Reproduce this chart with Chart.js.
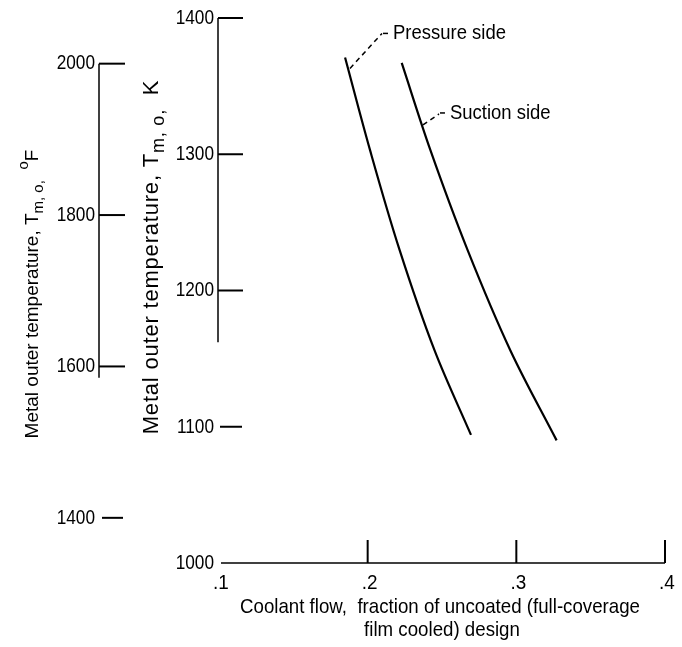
<!DOCTYPE html>
<html>
<head>
<meta charset="utf-8">
<script src="https://cdn.jsdelivr.net/npm/chart.js@4"></script>
<style>
  html, body { margin: 0; padding: 0; background: #fff; }
  #wrap { width: 682px; height: 647px; }
</style>
</head>
<body>
<div id="wrap"><canvas id="coolantChart" width="682" height="647"></canvas></div>
<script>
// curves: coolant flow vs metal outer temperature (K)
const pressureFlow = [0.1848, 0.2016, 0.2214, 0.2450, 0.2695];
const pressureTemp = [1371, 1303, 1230, 1156, 1094];
const suctionFlow = [0.2229, 0.2422, 0.2671, 0.2960, 0.3271];
const suctionTemp = [1367, 1303, 1230, 1156, 1090];

const flowTicks = [0.1, 0.2, 0.3, 0.4];
const flowLabels = [".1", ".2", ".3", ".4"];
const kelvinTicks = [1000, 1100, 1200, 1300, 1400];
const fahrenheitTicks = [1400, 1600, 1800, 2000];

const sans = '"Liberation Sans", Arial, sans-serif';

function toPoints(xs, ys) {
  return xs.map((x, i) => ({ x: x, y: ys[i] }));
}

function fToK(f) {
  return (f + 459.67) / 1.8;
}

function line(ctx, x1, y1, x2, y2) {
  ctx.beginPath();
  ctx.moveTo(x1, y1);
  ctx.lineTo(x2, y2);
  ctx.stroke();
}

// the original lettering is a condensed face, squeeze Liberation Sans sideways
function narrowText(ctx, text, x, y, align, size, squeeze) {
  ctx.save();
  ctx.translate(x, y);
  ctx.scale(squeeze, 1);
  ctx.font = size + "px " + sans;
  ctx.textAlign = align;
  ctx.textBaseline = "middle";
  ctx.fillText(text, 0, 0);
  ctx.restore();
}

// text pieces (normal / sub / sup) rotated -90deg, centred at cx, cy
function rotatedTitle(ctx, parts, cx, cy, size, spacing) {
  ctx.save();
  ctx.translate(cx, cy);
  ctx.rotate(-Math.PI / 2);
  ctx.textBaseline = "middle";
  ctx.textAlign = "left";
  ctx.letterSpacing = spacing + "px";
  let total = 0;
  parts.forEach(p => {
    ctx.font = (p.small ? Math.round(size * 0.8) : size) + "px " + sans;
    p.w = ctx.measureText(p.t).width;
    total += p.w;
  });
  let x = -total / 2;
  parts.forEach(p => {
    ctx.font = (p.small ? Math.round(size * 0.8) : size) + "px " + sans;
    ctx.fillText(p.t, x, p.shift || 0);
    x += p.w;
  });
  ctx.restore();
}

const axesPlugin = {
  id: "paperAxes",
  afterDraw(chart) {
    const ctx = chart.ctx;
    const xs = chart.scales.x;
    const ys = chart.scales.y;
    ctx.save();
    ctx.strokeStyle = "#000";
    ctx.fillStyle = "#000";

    // abscissa
    const yBase = ys.getPixelForValue(1000);
    ctx.lineWidth = 1.5;
    line(ctx, xs.getPixelForValue(0.1) + 2, yBase, xs.getPixelForValue(0.4), yBase);
    ctx.lineWidth = 2;
    flowTicks.forEach((v, i) => {
      const px = xs.getPixelForValue(v);
      if (i > 0) line(ctx, px, yBase, px, yBase - 23);
      narrowText(ctx, flowLabels[i], px + 2, yBase + 20, "center", 21, 0.9);
    });
    narrowText(ctx, "Coolant flow,  fraction of uncoated (full-coverage", 440, 607, "center", 21, 0.89);
    narrowText(ctx, "film cooled) design", 442, 630, "center", 21, 0.89);

    // kelvin scale
    const kx = 218;
    ctx.lineWidth = 1.5;
    line(ctx, kx, ys.getPixelForValue(1400), kx, ys.getPixelForValue(1162));
    kelvinTicks.forEach(v => {
      const py = ys.getPixelForValue(v);
      ctx.lineWidth = 2;
      if (v === 1100) line(ctx, kx + 2, py, kx + 24, py);
      else if (v !== 1000) line(ctx, kx, py, kx + 25, py);
      narrowText(ctx, String(v), kx - 4, py, "right", 21, 0.82);
    });

    // fahrenheit scale
    const fx = 99;
    ctx.lineWidth = 1.5;
    line(ctx, fx, ys.getPixelForValue(fToK(2000)), fx, ys.getPixelForValue(fToK(1585)));
    fahrenheitTicks.forEach(v => {
      const py = ys.getPixelForValue(fToK(v));
      ctx.lineWidth = 2;
      if (v === 1400) line(ctx, fx + 3, py, fx + 24, py);
      else line(ctx, fx, py, fx + 26, py);
      narrowText(ctx, String(v), fx - 4, py, "right", 21, 0.82);
    });

    // curve labels with dashed leaders
    ctx.lineWidth = 1.5;
    ctx.setLineDash([5, 4]);
    const pa = { x: xs.getPixelForValue(0.1881), y: ys.getPixelForValue(1363) };
    line(ctx, pa.x, pa.y, pa.x + 32, pa.y - 35);
    line(ctx, pa.x + 33, pa.y - 35, pa.x + 42, pa.y - 35);
    const sa = { x: xs.getPixelForValue(0.2372), y: ys.getPixelForValue(1321.5) };
    line(ctx, sa.x, sa.y, sa.x + 16, sa.y - 11);
    line(ctx, sa.x + 17, sa.y - 12, sa.x + 25, sa.y - 12);
    ctx.setLineDash([]);
    narrowText(ctx, "Pressure side", pa.x + 43, pa.y - 35, "left", 21, 0.88);
    narrowText(ctx, "Suction side", sa.x + 27, sa.y - 12, "left", 21, 0.88);

    // axis titles
    rotatedTitle(ctx, [
      { t: "Metal outer temperature, T" },
      { t: "m, o,", small: true, shift: 6 },
      { t: "  " },
      { t: "o", small: true, shift: -9 },
      { t: "F" }
    ], 33, 294, 19, 0);
    rotatedTitle(ctx, [
      { t: "Metal outer temperature, T" },
      { t: "m, o,", small: true, shift: 7 },
      { t: "  " },
      { t: "K" }
    ], 152, 257, 22, 0.8);
    ctx.restore();
  }
};

new Chart(document.getElementById("coolantChart"), {
  type: "scatter",
  data: {
    datasets: [
      {
        label: "Pressure side",
        data: toPoints(pressureFlow, pressureTemp),
        showLine: true,
        borderColor: "#000",
        borderWidth: 2.2,
        pointRadius: 0,
        tension: 0.35
      },
      {
        label: "Suction side",
        data: toPoints(suctionFlow, suctionTemp),
        showLine: true,
        borderColor: "#000",
        borderWidth: 2.2,
        pointRadius: 0,
        tension: 0.35
      }
    ]
  },
  options: {
    responsive: false,
    animation: false,
    devicePixelRatio: 1,
    layout: { padding: { left: 219, right: 17, top: 18, bottom: 84 } },
    scales: {
      x: { type: "linear", min: 0.1, max: 0.4, display: false },
      y: { type: "linear", min: 1000, max: 1400, display: false }
    },
    plugins: {
      legend: { display: false },
      tooltip: { enabled: false }
    }
  },
  plugins: [axesPlugin]
});
</script>
</body>
</html>
